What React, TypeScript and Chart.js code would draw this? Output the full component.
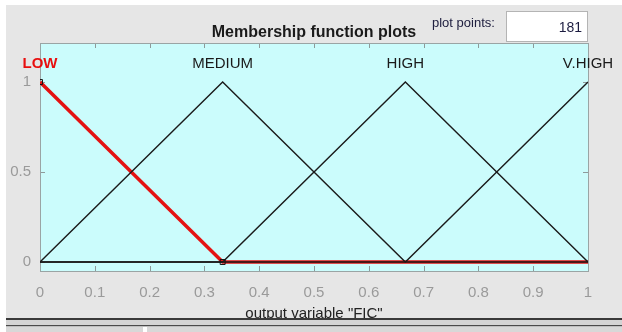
import { useEffect, useRef } from "react";
import { Chart, registerables } from "chart.js";

Chart.register(...registerables);

// ---- data ----
const xBreaks = [0, 0.3333, 0.6667, 1];
const lowValues = [1, 0, 0, 0];
const mediumValues = [0, 1, 0, 0];
const highValues = [0, 0, 1, 0];
const vhighValues = [0, 0, 0, 1];
const mfNames = ["LOW", "MEDIUM", "HIGH", "V.HIGH"];
const mfPeaks = [0, 0.3333, 0.6667, 1];
const labelLevel = 1.1;
const lowParamX = [0, 0.3333];
const lowParamY = [1, 0];
const xTicks = [0, 0.1, 0.2, 0.3, 0.4, 0.5, 0.6, 0.7, 0.8, 0.9, 1];
const yTicks = [0, 0.5, 1];
const chartTitle = "Membership function plots";
const xTitle = 'output variable "FIC"';
const plotPointsLabel = "plot points:";
const plotPoints = "181";

const FONT = "'Liberation Sans', Arial, Helvetica, sans-serif";

const toXY = (xs: number[], ys: number[]) => xs.map((x, i) => ({ x, y: ys[i] }));

const framePlugin = {
  id: "matlabFrame",
  beforeDraw(chart: any) {
    const { ctx, chartArea: a, width, height } = chart;
    ctx.save();
    ctx.fillStyle = "#ffffff";
    ctx.fillRect(0, 0, width, height);
    ctx.fillStyle = "#e6e6e6";
    ctx.fillRect(6, 5, width - 6, 314);
    ctx.fillStyle = "#cbfcfc";
    ctx.fillRect(a.left, a.top, a.right - a.left, a.bottom - a.top);
    ctx.restore();
  },
  beforeDatasetsDraw(chart: any) {
    const { ctx, chartArea: a } = chart;
    const xs = chart.scales.x;
    const ys = chart.scales.y;
    ctx.save();
    ctx.strokeStyle = "#8e9a9a";
    ctx.lineWidth = 1;
    for (const t of xTicks) {
      const px = Math.round(xs.getPixelForValue(t)) + 0.5;
      ctx.beginPath();
      ctx.moveTo(px, a.top);
      ctx.lineTo(px, a.top + 5);
      ctx.moveTo(px, a.bottom);
      ctx.lineTo(px, a.bottom - 5);
      ctx.stroke();
    }
    for (const t of yTicks) {
      const py = Math.round(ys.getPixelForValue(t)) + 0.5;
      ctx.beginPath();
      ctx.moveTo(a.left, py);
      ctx.lineTo(a.left + 5, py);
      ctx.moveTo(a.right, py);
      ctx.lineTo(a.right - 5, py);
      ctx.stroke();
    }
    ctx.strokeStyle = "#9aa4a4";
    ctx.strokeRect(a.left + 0.5, a.top + 0.5, a.right - a.left, a.bottom - a.top);
    ctx.restore();
  },
  afterDraw(chart: any) {
    const { ctx, chartArea: a, width } = chart;
    const xs = chart.scales.x;
    const ys = chart.scales.y;
    ctx.save();
    // title
    ctx.fillStyle = "#1a1a1a";
    ctx.font = `bold 16px ${FONT}`;
    ctx.textAlign = "center";
    ctx.textBaseline = "middle";
    ctx.fillText(chartTitle, (a.left + a.right) / 2, 33);
    // plot points
    ctx.font = `13px ${FONT}`;
    ctx.fillStyle = "#202040";
    ctx.textAlign = "left";
    ctx.fillText(plotPointsLabel, 432, 23);
    ctx.fillStyle = "#ffffff";
    ctx.fillRect(506, 11, 81, 30);
    ctx.strokeStyle = "#b4b4b4";
    ctx.strokeRect(506.5, 11.5, 81, 30);
    ctx.fillStyle = "#1c1c40";
    ctx.font = `14px ${FONT}`;
    ctx.textAlign = "right";
    ctx.fillText(plotPoints, 582, 28);
    // MF labels
    ctx.textAlign = "center";
    mfNames.forEach((name, i) => {
      const px = xs.getPixelForValue(mfPeaks[i]);
      const py = ys.getPixelForValue(labelLevel);
      if (i === 0) {
        ctx.fillStyle = "#e81010";
        ctx.font = `bold 15px ${FONT}`;
      } else {
        ctx.fillStyle = "#1a1a1a";
        ctx.font = `15px ${FONT}`;
      }
      ctx.fillText(name, px, py);
    });
    // bottom frame lines
    ctx.fillStyle = "#3a3a3a";
    ctx.fillRect(6, 318, width - 6, 2);
    ctx.fillStyle = "#d4d4d4";
    ctx.fillRect(6, 320, width - 6, 5);
    ctx.fillStyle = "#4a4a4a";
    ctx.fillRect(6, 325, width - 6, 1.5);
    ctx.fillStyle = "#d8d8d8";
    ctx.fillRect(6, 326.5, width - 6, 6);
    ctx.fillStyle = "#ffffff";
    ctx.fillRect(143, 327, 4, 5);
    ctx.restore();
  },
};

export default function App() {
  const ref = useRef<HTMLCanvasElement | null>(null);

  useEffect(() => {
    if (!ref.current) return;
    const blackLine = (data: number[]) => ({
      data: toXY(xBreaks, data),
      borderColor: "#1a1a1a",
      borderWidth: 1.4,
      pointRadius: 0,
      fill: false,
      order: 1,
    });
    const chart = new Chart(ref.current, {
      type: "line",
      data: {
        datasets: [
          {
            label: "LOW",
            data: toXY(xBreaks, lowValues),
            borderColor: "#e41212",
            borderWidth: 3.5,
            pointRadius: 0,
            fill: false,
            order: 2,
          },
          { label: "MEDIUM", ...blackLine(mediumValues) },
          { label: "HIGH", ...blackLine(highValues) },
          { label: "V.HIGH", ...blackLine(vhighValues) },
          {
            label: "params",
            data: toXY(lowParamX, lowParamY),
            showLine: false,
            pointStyle: "rect",
            pointRadius: 3.5,
            borderColor: "#111111",
            borderWidth: 1,
            backgroundColor: "rgba(0,0,0,0)",
            order: 0,
          },
        ],
      },
      options: {
        animation: false,
        responsive: false,
        maintainAspectRatio: false,
        layout: { padding: { top: 43, right: 34, left: 0, bottom: 0 } },
        plugins: { legend: { display: false }, tooltip: { enabled: false }, title: { display: false } },
        scales: {
          x: {
            type: "linear",
            position: "bottom",
            min: 0,
            max: 1,
            grid: { display: false },
            border: { display: false },
            afterBuildTicks: (s: any) => {
              s.ticks = xTicks.map((v) => ({ value: v }));
            },
            afterFit: (s: any) => {
              s.height = 61;
            },
            ticks: {
              color: "#9a9a9a",
              font: { size: 15, family: FONT },
              padding: 5,
              maxRotation: 0,
              autoSkip: false,
              callback: (v: any) => String(v),
            },
            title: {
              display: true,
              text: xTitle,
              color: "#222222",
              font: { size: 15, family: FONT },
              padding: { top: 0, bottom: 9 },
            },
          },
          y: {
            type: "linear",
            min: -0.05,
            max: 1.217,
            grid: { display: false },
            border: { display: false },
            afterBuildTicks: (s: any) => {
              s.ticks = yTicks.map((v) => ({ value: v }));
            },
            afterFit: (s: any) => {
              s.width = 40;
            },
            ticks: {
              color: "#9a9a9a",
              font: { size: 15, family: FONT },
              padding: 1,
              autoSkip: false,
              callback: (v: any) => String(v),
            },
          },
        },
      },
      plugins: [framePlugin],
    });
    return () => chart.destroy();
  }, []);

  return (
    <div style={{ position: "absolute", left: 0, top: 0, width: 622, height: 332 }}>
      <canvas ref={ref} width={622} height={332} style={{ display: "block", width: 622, height: 332 }} />
    </div>
  );
}
